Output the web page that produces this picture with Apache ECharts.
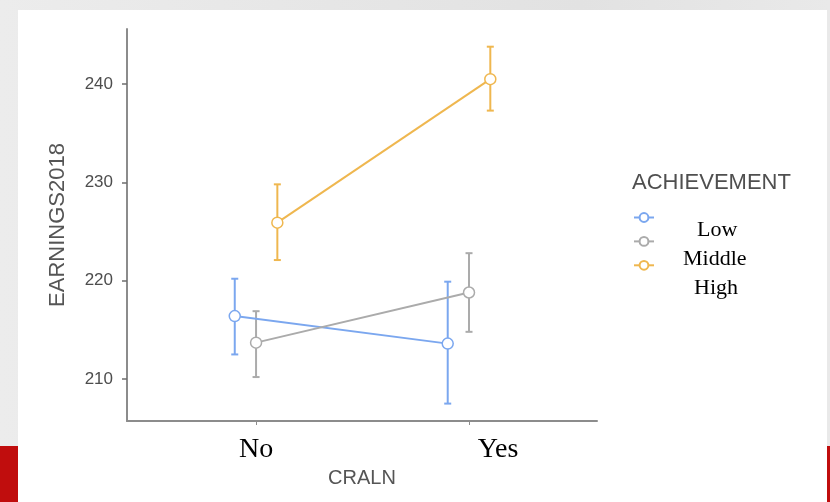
<!DOCTYPE html>
<html>
<head>
<meta charset="utf-8">
<script src="https://cdn.jsdelivr.net/npm/echarts@6/dist/echarts.min.js"></script>
<style>
  html,body{margin:0;padding:0;}
  body{background:linear-gradient(90deg,#ececec 0%,#e6e6e6 40%,#e2e2e2 70%,#e9e9e9 100%);}
  #chart{width:830px;height:502px;}
</style>
</head>
<body>
<div id="chart"></div>
<script>
// ---- data ----
const categories = ['No', 'Yes'];
const groups = ['Low', 'Middle', 'High'];
const lowMean  = [216.4, 213.6];
const lowLo    = [212.5, 207.5];
const lowHi    = [220.2, 219.9];
const midMean  = [213.7, 218.8];
const midLo    = [210.2, 214.8];
const midHi    = [216.9, 222.8];
const highMean = [225.9, 240.5];
const highLo   = [222.1, 237.3];
const highHi   = [229.8, 243.8];
const yTicks = [210, 220, 230, 240];

const colors = ['#7ba7ef', '#ababab', '#efb74f'];
const dodge = [-0.1, 0, 0.1];
const means = [lowMean, midMean, highMean];
const los = [lowLo, midLo, highLo];
const his = [lowHi, midHi, highHi];

const chart = echarts.init(document.getElementById('chart'));
const series = [];
groups.forEach((g, gi) => {
  const errData = categories.map((c, ci) => [ci + 1 + dodge[gi], los[gi][ci], his[gi][ci]]);
  series.push({
    type: 'custom',
    name: g + '_err',
    z: 2,
    silent: true,
    data: errData,
    renderItem: function (params, api) {
      const x = api.value(0);
      const lo = api.coord([x, api.value(1)]);
      const hi = api.coord([x, api.value(2)]);
      const hw = 3.5;
      const style = { stroke: colors[gi], lineWidth: 2, fill: null };
      return {
        type: 'group',
        children: [
          { type: 'line', shape: { x1: lo[0], y1: lo[1], x2: hi[0], y2: hi[1] }, style: style },
          { type: 'line', shape: { x1: lo[0] - hw, y1: lo[1], x2: lo[0] + hw, y2: lo[1] }, style: style },
          { type: 'line', shape: { x1: hi[0] - hw, y1: hi[1], x2: hi[0] + hw, y2: hi[1] }, style: style }
        ]
      };
    }
  });
  series.push({
    type: 'line',
    name: g,
    z: 3,
    data: categories.map((c, ci) => [ci + 1 + dodge[gi], means[gi][ci]]),
    symbol: 'circle',
    symbolSize: 11,
    showSymbol: true,
    lineStyle: { color: colors[gi], width: 2 },
    itemStyle: { color: '#ffffff', borderColor: colors[gi], borderWidth: 1.5 },
    emphasis: { disabled: true },
    animation: false
  });
});

const option = {
  animation: false,
  backgroundColor: 'transparent',
  graphic: [
    { type: 'rect', z: -10, shape: { x: 18, y: 10, width: 809, height: 492 }, style: { fill: '#ffffff' } },
    { type: 'rect', z: -10, shape: { x: 0, y: 446, width: 18, height: 56 }, style: { fill: '#c00d0d' } },
    { type: 'rect', z: -10, shape: { x: 827, y: 446, width: 3, height: 56 }, style: { fill: '#c00d0d' } },
    { type: 'text', left: 632, top: 172, style: { text: 'ACHIEVEMENT', font: '22px "Liberation Sans", Arial, sans-serif', fill: '#4f4f4f' } },
    { type: 'text', left: 697, top: 219, style: { text: groups[0], font: '22px "Liberation Serif", "Times New Roman", serif', fill: '#000' } },
    { type: 'text', left: 683, top: 248, style: { text: groups[1], font: '22px "Liberation Serif", "Times New Roman", serif', fill: '#000' } },
    { type: 'text', left: 694, top: 277, style: { text: groups[2], font: '22px "Liberation Serif", "Times New Roman", serif', fill: '#000' } }
  ],
  legend: {
    orient: 'vertical',
    left: 628,
    top: 207,
    itemWidth: 20,
    itemHeight: 11,
    itemGap: 13,
    data: groups,
    formatter: function () { return ''; },
    selectedMode: false
  },
  grid: { left: 127, right: 233, top: 29, bottom: 81 },
  xAxis: {
    type: 'value',
    min: 0.394,
    max: 2.601,
    splitLine: { show: false },
    axisLine: { show: true, onZero: false, lineStyle: { color: '#8c8c8c', width: 2 } },
    axisTick: { show: true, customValues: [1, 2], length: 4, lineStyle: { color: '#8c8c8c', width: 1 } },
    axisLabel: {
      customValues: [1, 2],
      margin: 15,
      formatter: function (v) {
        const c = categories[Math.round(v) - 1];
        return Math.round(v) === 2 ? '{yes|' + c + '}' : '{no|' + c + '}';
      },
      rich: {
        no: { fontFamily: '"Liberation Serif", "Times New Roman", serif', fontSize: 28, color: '#000' },
        yes: { fontFamily: '"Liberation Serif", "Times New Roman", serif', fontSize: 28, color: '#000', padding: [0, 0, 0, 58] }
      }
    },
    name: 'CRALN',
    nameLocation: 'middle',
    nameGap: 44,
    nameTextStyle: { fontFamily: '"Liberation Sans", Arial, sans-serif', fontSize: 20, color: '#555' }
  },
  yAxis: {
    type: 'value',
    min: 205.73,
    max: 245.6,
    splitLine: { show: false },
    axisLine: { show: true, lineStyle: { color: '#8c8c8c', width: 2 } },
    axisTick: { show: true, customValues: yTicks, length: 5, lineStyle: { color: '#6e6e6e', width: 1.5 } },
    axisLabel: {
      customValues: yTicks,
      margin: 14,
      fontFamily: '"Liberation Sans", Arial, sans-serif',
      fontSize: 17,
      color: '#4d4d4d'
    },
    name: 'EARNINGS2018',
    nameLocation: 'middle',
    nameGap: 58,
    nameTextStyle: { fontFamily: '"Liberation Sans", Arial, sans-serif', fontSize: 22, color: '#555' }
  },
  series: series
};
chart.setOption(option);
</script>
</body>
</html>
